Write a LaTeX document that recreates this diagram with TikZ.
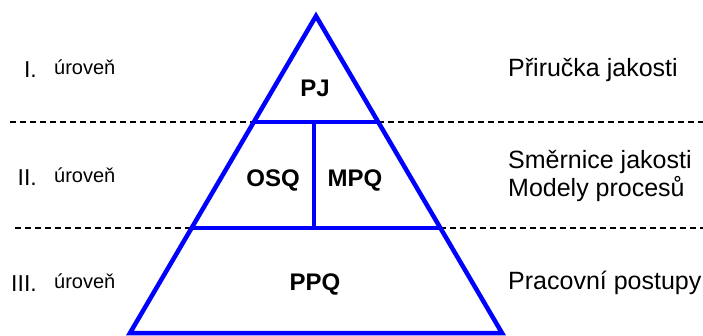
\documentclass[tikz,border=0pt]{standalone}
\usepackage{fontspec}
\setmainfont{Liberation Sans}
\usetikzlibrary{positioning}

\begin{document}
\begin{tikzpicture}[
    x=1pt, y=-1pt,
    edge/.style={draw=blue, line width=4.5pt, line join=miter},
    level/.style={draw, dash pattern=on 6pt off 4pt, line width=1.3pt},
    part/.style={font=\fontsize{24}{26}\selectfont\bfseries, text height=17pt, text depth=0pt},
    roman/.style={font=\fontsize{23}{26}\selectfont, anchor=east, inner sep=0pt, text height=17pt, text depth=0pt},
    lvl/.style={font=\fontsize{20}{24}\selectfont, anchor=west, inner sep=0pt, text height=15pt, text depth=4pt},
    desc/.style={font=\fontsize{25}{28}\selectfont, anchor=west, align=left, inner sep=0pt}
]
    \useasboundingbox (0,0) rectangle (703,335);

    % pyramid corners and cuts
    \coordinate (apex) at (316,16);
    \coordinate (bl) at (130,333);
    \coordinate (br) at (502,333);
    \coordinate (l1) at (253.8,122);
    \coordinate (r1) at (378.2,122);
    \coordinate (l2) at (191.6,228);
    \coordinate (r2) at (440.4,228);
    \coordinate (m1) at (314,122);
    \coordinate (m2) at (314,228);

    % dashed level borders
    \coordinate (d1l) at (10,122);
    \coordinate (d1r) at (703,122);
    \coordinate (d2l) at (15,228);
    \coordinate (d2r) at (703,228);
    \draw[level] (d1l) -- (l1);
    \draw[level] (r1) -- (d1r);
    \draw[level] (d2l) -- (l2);
    \draw[level] (r2) -- (d2r);

    \draw[edge] (apex) -- (bl) -- (br) -- cycle;
    \draw[edge] (l1) -- (r1);
    \draw[edge] (l2) -- (r2);
    \draw[edge] (m1) -- (m2);

    \node[part] (pj) at (315,88) {PJ};
    \node[part] (osq) at (273,178) {OSQ};
    \node[part] (mpq) at (355,178) {MPQ};
    \node[part] (ppq) at (315,282) {PPQ};

    \node[roman] (lev1) at (37,69) {I.};
    \node[roman] (lev2) at (37,177) {II.};
    \node[roman] (lev3) at (37,283) {III.};
    \node[lvl] (urov1) at (54,69) {úroveň};
    \node[lvl] (urov2) at (54,177) {úroveň};
    \node[lvl] (urov3) at (54,283) {úroveň};

    \node[desc] (pj text) at (508,70) {Přiručka jakosti};
    \node[desc] (osq text) at (508,176) {Směrnice jakosti\\Modely procesů};
    \node[desc] (ppq text) at (508,283) {Pracovní postupy};
\end{tikzpicture}
\end{document}
